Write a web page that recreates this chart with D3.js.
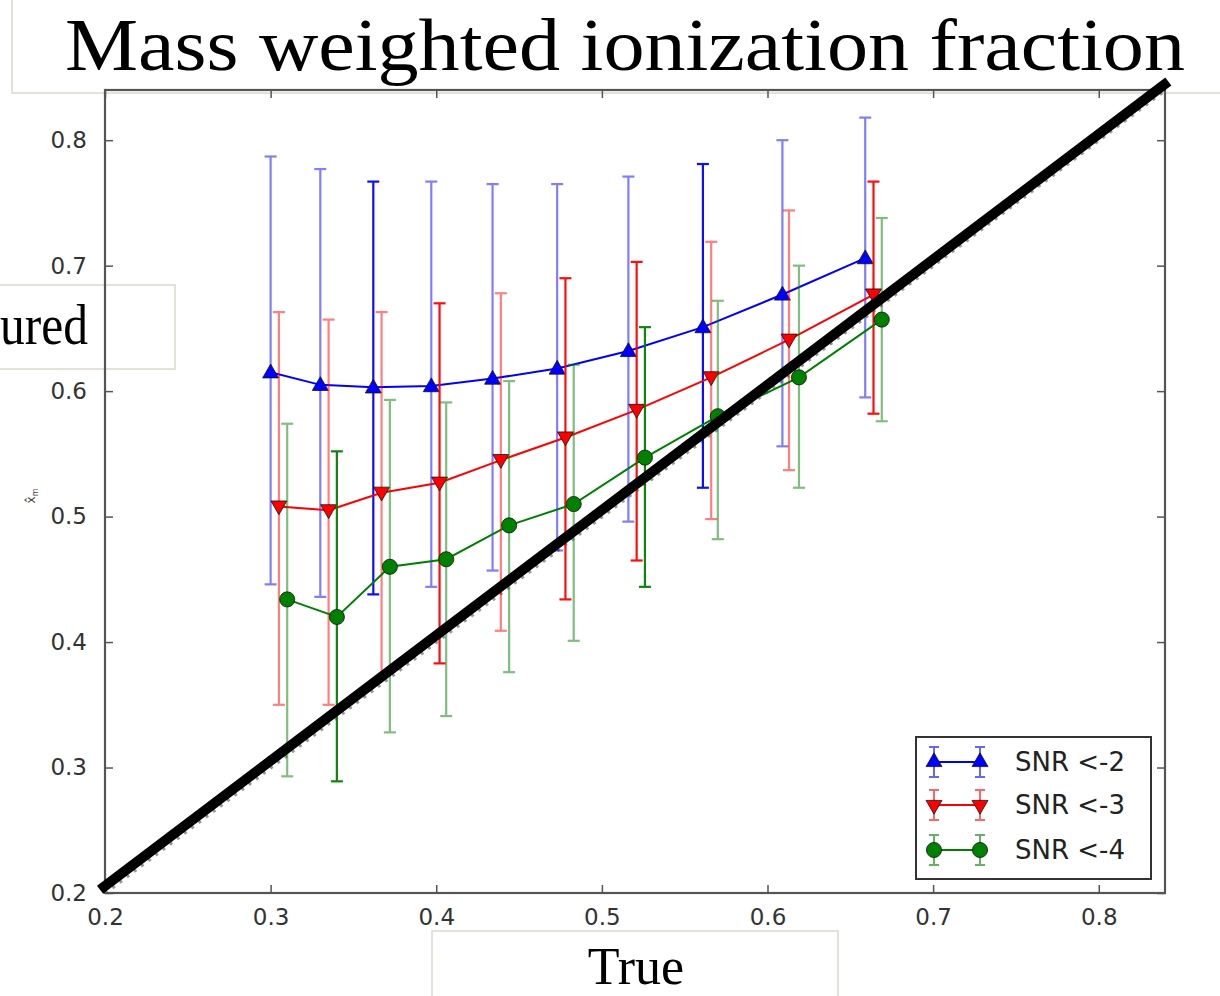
<!DOCTYPE html>
<html>
<head>
<meta charset="utf-8">
<script src="https://cdn.jsdelivr.net/npm/d3@7"></script>
<style>
html,body{margin:0;padding:0;background:#fff;overflow:hidden;}
svg{display:block;}
</style>
</head>
<body>
<svg id="chart" width="1220" height="996"></svg>
<script>
// ---------- data ----------
const seriesNames = ["SNR <-2", "SNR <-3", "SNR <-4"];

const blueX  = [0.300, 0.330, 0.362, 0.397, 0.434, 0.473, 0.516, 0.561, 0.609, 0.659];
const blueY  = [0.615, 0.605, 0.603, 0.604, 0.610, 0.618, 0.632, 0.651, 0.677, 0.706];
const blueLo = [0.446, 0.436, 0.438, 0.444, 0.457, 0.473, 0.496, 0.523, 0.556, 0.595];
const blueHi = [0.787, 0.777, 0.767, 0.767, 0.765, 0.765, 0.771, 0.781, 0.800, 0.818];

const redX  = [0.305, 0.335, 0.367, 0.402, 0.439, 0.478, 0.521, 0.566, 0.613, 0.664];
const redY  = [0.508, 0.505, 0.519, 0.527, 0.545, 0.563, 0.585, 0.611, 0.641, 0.677];
const redLo = [0.350, 0.350, 0.373, 0.383, 0.409, 0.434, 0.465, 0.498, 0.537, 0.582];
const redHi = [0.663, 0.657, 0.663, 0.670, 0.678, 0.690, 0.703, 0.719, 0.744, 0.767];

const greenX  = [0.310, 0.340, 0.372, 0.406, 0.444, 0.483, 0.526, 0.570, 0.619, 0.669];
const greenY  = [0.434, 0.420, 0.460, 0.466, 0.493, 0.510, 0.547, 0.580, 0.611, 0.657];
const greenLo = [0.293, 0.289, 0.328, 0.341, 0.376, 0.401, 0.444, 0.482, 0.523, 0.576];
const greenHi = [0.574, 0.552, 0.593, 0.591, 0.608, 0.621, 0.651, 0.672, 0.700, 0.738];

const xTicks = [0.2, 0.3, 0.4, 0.5, 0.6, 0.7, 0.8];
const yTicks = [0.2, 0.3, 0.4, 0.5, 0.6, 0.7, 0.8];
const xDomain = [0.2, 0.84];
const yDomain = [0.2, 0.84];
const diagonal = [0.197, 0.842];

const titleText = "Mass weighted ionization fraction";
const xLabelText = "True";
const yLabelCut = "ured";

// ---------- styles ----------
const colors = ["#0000ff", "#ff0000", "#008000"];
const solidBars = [[2, 7], [3, 5, 6, 9], [1, 6]];
const symbols = [d3.symbolTriangle, "down", d3.symbolCircle];

const series = [
  {name: seriesNames[0], x: blueX, y: blueY, lo: blueLo, hi: blueHi},
  {name: seriesNames[1], x: redX, y: redY, lo: redLo, hi: redHi},
  {name: seriesNames[2], x: greenX, y: greenY, lo: greenLo, hi: greenHi}
];

const svg = d3.select("#chart");
const L = 105, R = 1165, T = 90, B = 893;
const x = d3.scaleLinear().domain(xDomain).range([L, R]);
const y = d3.scaleLinear().domain(yDomain).range([B, T]);

// overlay boxes (behind)
svg.append("rect").attr("x", 12).attr("y", -5).attr("width", 1220).attr("height", 98)
  .attr("fill", "#fff").attr("stroke", "#dcd8cc").attr("stroke-width", 1.5);
svg.append("rect").attr("x", -2).attr("y", 285).attr("width", 177).attr("height", 84)
  .attr("fill", "none").attr("stroke", "#dcd8cc").attr("stroke-width", 1.5);
svg.append("rect").attr("x", 432).attr("y", 931).attr("width", 406).attr("height", 80)
  .attr("fill", "#fff").attr("stroke", "#dcd8cc").attr("stroke-width", 1.5);

svg.append("text").attr("x", 65).attr("y", 70)
  .attr("font-family", "'Liberation Serif', 'DejaVu Serif', serif").attr("font-size", 74)
  .attr("textLength", 1120).attr("lengthAdjust", "spacingAndGlyphs")
  .attr("fill", "#000").text(titleText);
svg.append("text").attr("x", 0).attr("y", 344)
  .attr("font-family", "'Liberation Serif', 'DejaVu Serif', serif").attr("font-size", 56)
  .attr("textLength", 88).attr("lengthAdjust", "spacingAndGlyphs")
  .attr("fill", "#000").text(yLabelCut);
svg.append("text").attr("x", 636).attr("y", 984).attr("text-anchor", "middle")
  .attr("font-family", "'Liberation Serif', 'DejaVu Serif', serif").attr("font-size", 52)
  .attr("fill", "#000").text(xLabelText);

// clip
svg.append("clipPath").attr("id", "plotclip").append("rect")
  .attr("x", L).attr("y", T).attr("width", R - L).attr("height", B - T);

const plot = svg.append("g").attr("clip-path", "url(#plotclip)");

// dashed y=x reference line
plot.append("line")
  .attr("x1", x(xDomain[0])).attr("y1", y(yDomain[0]))
  .attr("x2", x(xDomain[1])).attr("y2", y(yDomain[1]))
  .attr("stroke", "#999").attr("stroke-width", 4).attr("stroke-dasharray", "3,6");

// series
function markerPath(sym, size) {
  if (sym === "down") return d3.symbol(d3.symbolTriangle, size)();
  return d3.symbol(sym, size)();
}

series.forEach((s, si) => {
  const col = colors[si];
  const g = plot.append("g");
  const idx = d3.range(s.x.length);
  const eb = g.selectAll("g.eb").data(idx).join("g")
    .attr("opacity", i => solidBars[si].includes(i) ? 0.95 : 0.5);
  eb.append("line")
    .attr("x1", i => x(s.x[i])).attr("x2", i => x(s.x[i]))
    .attr("y1", i => y(s.lo[i])).attr("y2", i => y(s.hi[i]))
    .attr("stroke", col).attr("stroke-width", 2.2);
  ["lo", "hi"].forEach(k => {
    eb.append("line")
      .attr("x1", i => x(s.x[i]) - 6).attr("x2", i => x(s.x[i]) + 6)
      .attr("y1", i => y(s[k][i])).attr("y2", i => y(s[k][i]))
      .attr("stroke", col).attr("stroke-width", 2.2);
  });
  g.append("path")
    .datum(idx)
    .attr("d", d3.line().x(i => x(s.x[i])).y(i => y(s.y[i])))
    .attr("fill", "none").attr("stroke", col).attr("stroke-width", 2);
  const size = si === 2 ? 180 : 110;
  g.selectAll("path.m").data(idx).join("path")
    .attr("d", markerPath(symbols[si], size))
    .attr("transform", i => `translate(${x(s.x[i])},${y(s.y[i]) + (si === 0 ? 1 : si === 1 ? -1 : 0)})` + (si === 1 ? " rotate(180)" : ""))
    .attr("fill", col).attr("stroke", "#111").attr("stroke-width", 0.8);
});

// axes frame and ticks
const axisCol = "#555";
const tickFont = "'DejaVu Sans', Verdana, sans-serif";
const xAxisB = svg.append("g").attr("transform", `translate(0,${B})`)
  .call(d3.axisBottom(x).tickValues(xTicks).tickSize(-8).tickPadding(16).tickFormat(d3.format(".1f")));
const xAxisT = svg.append("g").attr("transform", `translate(0,${T})`)
  .call(d3.axisTop(x).tickValues(xTicks).tickSize(-8).tickFormat(""));
const yAxisL = svg.append("g").attr("transform", `translate(${L},0)`)
  .call(d3.axisLeft(y).tickValues(yTicks).tickSize(-8).tickPadding(18).tickFormat(d3.format(".1f")));
const yAxisR = svg.append("g").attr("transform", `translate(${R},0)`)
  .call(d3.axisRight(y).tickValues(yTicks).tickSize(-8).tickFormat(""));
[xAxisB, xAxisT, yAxisL, yAxisR].forEach(a => {
  a.select(".domain").remove();
  a.selectAll(".tick line").attr("stroke", axisCol).attr("stroke-width", 1.5);
  a.selectAll(".tick text").attr("font-family", tickFont).attr("font-size", 23).attr("fill", "#333");
});
xAxisB.selectAll(".tick text").attr("dy", "0.71em");
svg.append("rect").attr("x", L).attr("y", T).attr("width", R - L).attr("height", B - T)
  .attr("fill", "none").attr("stroke", axisCol).attr("stroke-width", 2.2);

// y-axis label (tiny)
const yl = svg.append("text").attr("transform", "translate(35,496) rotate(-90)")
  .attr("text-anchor", "middle").attr("font-family", tickFont).attr("font-size", 12).attr("fill", "#444");
yl.append("tspan").text("x\u0302");
yl.append("tspan").attr("font-size", 8).attr("dy", 3).text("m");

// legend
const lg = svg.append("g");
lg.append("rect").attr("x", 916).attr("y", 737).attr("width", 235).attr("height", 142)
  .attr("fill", "#fff").attr("stroke", "#333").attr("stroke-width", 2);
const rowsY = [762, 805, 850];
series.forEach((s, si) => {
  const col = colors[si];
  const cy = rowsY[si];
  const xs = [934, 980];
  const row = lg.append("g");
  xs.forEach(px => {
    const eg = row.append("g").attr("opacity", 0.6);
    eg.append("line").attr("x1", px).attr("x2", px).attr("y1", cy - 15).attr("y2", cy + 15)
      .attr("stroke", col).attr("stroke-width", 2);
    [-15, 15].forEach(o => eg.append("line").attr("x1", px - 5).attr("x2", px + 5)
      .attr("y1", cy + o).attr("y2", cy + o).attr("stroke", col).attr("stroke-width", 2));
  });
  row.append("line").attr("x1", xs[0]).attr("x2", xs[1]).attr("y1", cy).attr("y2", cy)
    .attr("stroke", col).attr("stroke-width", 2);
  xs.forEach(px => row.append("path")
    .attr("d", markerPath(symbols[si], si === 2 ? 180 : 110))
    .attr("transform", `translate(${px},${cy})` + (si === 1 ? " rotate(180)" : ""))
    .attr("fill", col).attr("stroke", "#111").attr("stroke-width", 0.8));
  row.append("text").attr("x", 1015).attr("y", cy).attr("dy", "0.36em")
    .attr("font-family", tickFont).attr("font-size", 26)
    .attr("fill", "#222").text(s.name);
});

// thick black annotation line (on top)
svg.append("line")
  .attr("x1", x(diagonal[0])).attr("y1", y(diagonal[0]) - 7)
  .attr("x2", x(diagonal[1])).attr("y2", y(diagonal[1]) - 6)
  .attr("stroke", "#000").attr("stroke-width", 10).attr("stroke-linecap", "butt");
</script>
</body>
</html>
